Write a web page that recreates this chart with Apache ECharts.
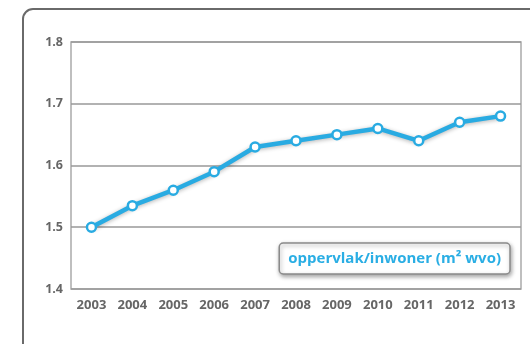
<!DOCTYPE html>
<html><head><meta charset="utf-8">
<script src="https://cdn.jsdelivr.net/npm/echarts@6/dist/echarts.min.js"></script>
<style>html,body{margin:0;padding:0;background:#fff}#c{width:530px;height:344px}</style>
</head><body><div id="c"></div>
<script>
var categories = ['2003','2004','2005','2006','2007','2008','2009','2010','2011','2012','2013'];
var seriesName = 'oppervlak/inwoner (m² wvo)';
var values = [1.50, 1.535, 1.56, 1.59, 1.63, 1.64, 1.65, 1.66, 1.64, 1.67, 1.68];
var yTicks = [1.4, 1.5, 1.6, 1.7, 1.8];

var chart = echarts.init(document.getElementById('c'));
var fontFam = '"Open Sans", "DejaVu Sans", sans-serif';
chart.setOption({
  animation: false,
  graphic: [{
    type: 'rect', left: 22, top: 8, z: -10,
    shape: { width: 600, height: 400, r: 10 },
    style: { fill: '#fff', stroke: '#6a6a6a', lineWidth: 2 }
  }],
  grid: { left: 71, top: 42, right: 9, bottom: 55, show: true, borderColor: '#aaa', borderWidth: 1.5 },
  legend: {
    right: 20, top: 243, data: [seriesName], icon: 'none', itemWidth: 0, itemGap: 0,
    backgroundColor: '#fff', borderColor: '#8a8a8a', borderWidth: 1.5, borderRadius: 4,
    shadowBlur: 4, shadowColor: 'rgba(0,0,0,0.35)', shadowOffsetX: 1, shadowOffsetY: 2,
    padding: [8, 9, 8, 4],
    selectedMode: false,
    textStyle: { color: '#2aaee4', fontSize: 15, fontWeight: 'bold', fontFamily: fontFam }
  },
  xAxis: {
    type: 'category', data: categories, boundaryGap: true,
    axisLine: { show: false }, axisTick: { show: false },
    axisLabel: { color: '#666', fontSize: 13, fontWeight: 'bold', fontFamily: fontFam, margin: 10, interval: 0 }
  },
  yAxis: {
    type: 'value', min: 1.4, max: 1.8, interval: 0.1,
    axisLine: { show: false }, axisTick: { show: false },
    axisLabel: { color: '#666', fontSize: 12.5, fontWeight: 'bold', fontFamily: fontFam, margin: 8,
      formatter: function (v) { var t = yTicks.find(function (y) { return Math.abs(y - v) < 1e-6; }); return t !== undefined ? t.toFixed(1) : ''; } },
    splitLine: { lineStyle: { color: '#999', width: 1.5 } }
  },
  series: [{
    name: seriesName, type: 'line', data: values,
    symbol: 'circle', symbolSize: 9,
    lineStyle: { color: '#29abe2', width: 4.5, shadowBlur: 4, shadowColor: 'rgba(0,0,0,0.3)', shadowOffsetY: 1 },
    itemStyle: { color: '#fff', borderColor: '#29abe2', borderWidth: 2.5 }
  }]
});
</script></body></html>
